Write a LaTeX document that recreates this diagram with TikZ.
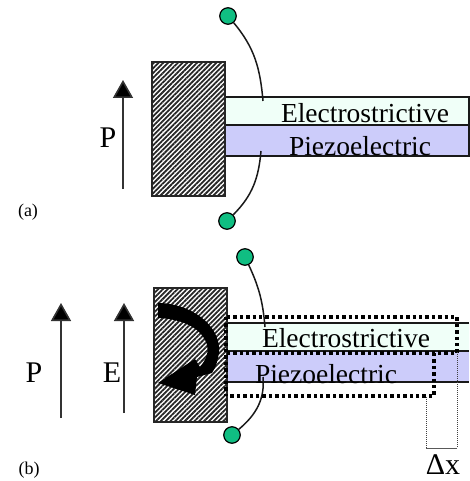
\documentclass[tikz,border=0pt]{standalone}
\usepackage{fontspec}
\setmainfont{Liberation Serif}
\usetikzlibrary{arrows.meta, patterns.meta}
\definecolor{electrofill}{RGB}{240, 255, 248}
\definecolor{piezofill}{RGB}{204, 204, 250}
\definecolor{terminalgreen}{RGB}{16, 190, 130}
\tikzset{
  terminal/.style={circle, draw=black, fill=terminalgreen, line width=1.2pt, minimum size=16.5pt, inner sep=0pt},
  wire/.style={line width=1.5pt, black!90},
  layer/.style={draw=black!90, line width=1.2pt},
  bigtext/.style={font=\fontsize{27.5}{30}\selectfont, inner sep=0pt},
  sublabel/.style={font=\fontsize{18}{20}\selectfont, inner sep=0pt},
  fieldarrow/.style={line width=1.6pt, black!80, -{Triangle[length=18pt, width=20pt, fill=black]}},
  clampblock/.style={draw=black!85, line width=1.1pt, pattern={Lines[angle=45, distance=3.4pt, line width=1.8pt]}, pattern color=black!85},
  movedline/.style={line width=3.6pt, dash pattern=on 3.4pt off 3pt},
  gapline/.style={line width=1pt, densely dotted, black!75}
}
\begin{document}
\begin{tikzpicture}[x=1pt, y=-1pt]
  \useasboundingbox (0, 0) rectangle (469, 481);
  % Part (a): layers
  \fill[electrofill] (225, 97) rectangle (469, 125);
  \fill[piezofill] (225, 125) rectangle (469, 156);
  \draw[layer] (469, 97) -- (225, 97) -- (225, 156) -- (469, 156) -- cycle;
  \draw[layer] (225, 125) -- (469, 125);
  % Part (a): clamp
  \draw[clampblock] (152, 62) rectangle (225, 196);
  % Part (a): electrodes
  \node[terminal] (topA) at (228, 16) {};
  \node[terminal] (botA) at (227, 221) {};
  \coordinate (topAend) at (263, 101);
  \coordinate (botAend) at (261, 151);
  \draw[wire] (topA) to[out=-50, in=95] (topAend);
  \draw[wire] (botA) to[out=45, in=-95] (botAend);
  % Part (a): labels
  \node[bigtext] (electroA) at (365, 113) {Electrostrictive};
  \node[bigtext] (piezoA) at (360, 146) {Piezoelectric};
  \coordinate (polA0) at (123, 189);
  \coordinate (polA1) at (123, 80);
  \draw[fieldarrow] (polA0) -- (polA1);
  \node[bigtext, font=\fontsize{30}{32}\selectfont] (polAlabel) at (108, 138) {P};
  \node[sublabel] (partA) at (28, 212) {(a)};

  % Part (b): layers
  \fill[electrofill] (227, 323) rectangle (469, 351);
  \fill[piezofill] (227, 351) rectangle (469, 382);
  \draw[layer] (469, 323) -- (227, 323) (227, 351) -- (469, 351) (227, 382) -- (469, 382);
  % Part (b): clamp
  \draw[clampblock] (154, 288) rectangle (227, 422);
  % Part (b): bending arrow
  \fill[black] (158, 303) .. controls (190, 303) and (221, 325) .. (219, 352)
    .. controls (218, 360) and (216, 367) .. (212, 373)
    -- (197, 377) -- (195, 395) -- (158, 383) -- (195, 359) -- (200, 367)
    .. controls (206, 360) and (209, 352) .. (207, 345)
    .. controls (203, 330) and (185, 319) .. (158, 318) -- cycle;
  % Part (b): electrodes
  \node[terminal] (topB) at (245, 257) {};
  \node[terminal] (botB) at (232, 435) {};
  \coordinate (topBend) at (265, 327);
  \coordinate (botBend) at (263, 377);
  \draw[wire] (topB) to[out=-65, in=95] (topBend);
  \draw[wire] (botB) to[out=40, in=-85] (botBend);
  % Part (b): displaced outline
  \draw[movedline] (227, 317) -- (457, 317) -- (457, 353) -- (227, 353);
  \draw[movedline] (434, 353) -- (434, 396) -- (229, 396);
  \draw[movedline] (226, 317) -- (226, 396);
  % Part (b): displacement mark
  \coordinate (gapL) at (426, 397);
  \coordinate (gapR) at (457, 352);
  \coordinate (gapLb) at (426, 448);
  \coordinate (gapRb) at (457, 448);
  \draw[gapline] (gapL) -- (gapLb);
  \draw[gapline] (gapR) -- (gapRb);
  \draw[line width=1pt, black!65] (gapLb) -- (gapRb);
  % Part (b): labels
  \node[bigtext] (electroB) at (346, 338) {Electrostrictive};
  \node[bigtext] (piezoB) at (326, 374) {Piezoelectric};
  \node[bigtext, anchor=base, font=\fontsize{30}{32}\selectfont] (deltaX) at (443, 474) {Δx};
  \coordinate (polB0) at (61, 418);
  \coordinate (polB1) at (61, 303);
  \draw[fieldarrow] (polB0) -- (polB1);
  \node[bigtext, font=\fontsize{30}{32}\selectfont] (polBlabel) at (34, 373) {P};
  \coordinate (fieldB0) at (124, 413);
  \coordinate (fieldB1) at (124, 303);
  \draw[fieldarrow] (fieldB0) -- (fieldB1);
  \node[bigtext, font=\fontsize{30}{32}\selectfont] (fieldBlabel) at (112, 373) {E};
  \node[sublabel] (partB) at (29, 470) {(b)};
\end{tikzpicture}
\end{document}
